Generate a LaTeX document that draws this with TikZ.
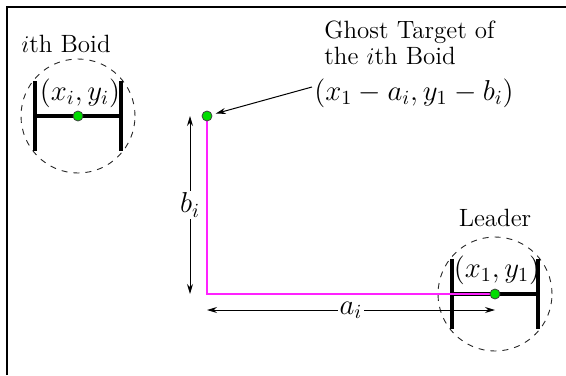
\documentclass[tikz,border=0pt]{standalone}
\usetikzlibrary{positioning,calc,arrows.meta}
\definecolor{dotgreen}{HTML}{00DD00}
\definecolor{trailpink}{HTML}{FF22FF}

\begin{document}
\begin{tikzpicture}[x=0.5pt, y=-0.5pt,
  lbl/.style={font=\fontsize{12.5}{13}\selectfont, inner sep=1pt},
  mlbl/.style={font=\fontsize{14}{15}\selectfont, inner sep=1pt},
  bar/.style={line width=2pt},
  zone/.style={dashed, draw=black!85, line width=0.45pt},
  gdot/.style={circle, draw=black!75, fill=dotgreen, line width=0.4pt,
               inner sep=0pt, minimum size=5pt},
  measure/.style={line width=0.5pt, {Stealth[length=5pt,width=3pt]}-{Stealth[length=5pt,width=3pt]}},
  pointer/.style={line width=0.5pt, -{Stealth[length=5pt,width=3pt]}},
  trail/.style={trailpink, line width=0.75pt},
]
\useasboundingbox (0,0) rectangle (566,375);

% frame (top and left edges only)
\draw[line width=1pt] (7,375) -- (7,6.5) -- (566,6.5);

% the two boids: dashed zone and the H-shaped body
\foreach \cx/\cy/\nm in {78/116/boid, 495/294/leader} {
  \draw[zone] (\cx,\cy) circle[radius=28.5pt];
  \draw[bar] (\cx-43,\cy-35) -- (\cx-43,\cy+35);
  \draw[bar] (\cx+43,\cy-35) -- (\cx+43,\cy+35);
  \draw[bar] (\cx-43,\cy) -- (\cx+43,\cy);
  \coordinate (\nm) at (\cx,\cy);
}
\coordinate (ghost) at (207,116);

\draw[trail] (ghost) |- (leader);
\foreach \nd in {boid, leader, ghost}
  \node[gdot] at (\nd) {};

\node[lbl]  (boidname) at (66,44) {$i$th Boid};
\node[mlbl] (boidpos)  at (80,93) {$(x_i,y_i)$};
\node[lbl]  (leadname) at (495,218) {Leader};
\node[mlbl] (leadpos)  at (497,270) {$(x_1,y_1)$};
\node[lbl, align=left, anchor=west] (ghostname) at (322,43)
  {Ghost Target of\\the $i$th Boid};
\node[mlbl] (ghostpos) at (414,93) {$(x_1-a_i,y_1-b_i)$};

\draw[pointer, shorten >=4.5pt] ([yshift=3pt]ghostpos.west) -- (ghost);

\draw[measure] ($(ghost)+(-17,0)$) -- node[mlbl, fill=white] (bi) {$b_i$}
  ($(ghost |- leader)+(-17,0)$);
\draw[measure] ($(ghost |- leader)+(0,16)$) -- node[mlbl, fill=white] (ai) {$a_i$}
  ($(leader)+(0,16)$);
\end{tikzpicture}
\end{document}
